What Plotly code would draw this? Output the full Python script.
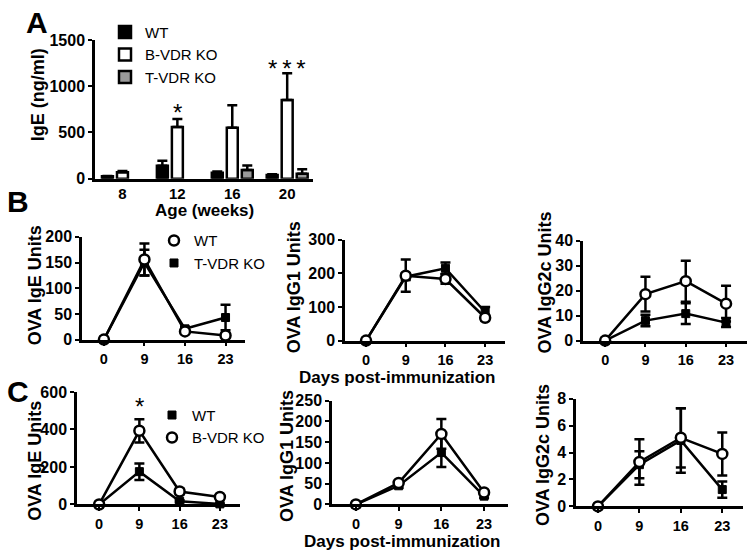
import plotly.graph_objects as go

W, H = 754, 560
FONT = "Arial, 'Liberation Sans', sans-serif"

# ---------------- data ----------------
# Panel A: serum IgE by age
ages = ["8", "12", "16", "20"]
ige_wt = [25, 140, 65, 40]
ige_wt_err = [5, 55, 12, 8]
ige_bko = [68, 560, 550, 850]
ige_bko_err = [14, 85, 245, 290]
ige_tko = [None, None, 95, 53]
ige_tko_err = [0, 0, 48, 48]

days = ["0", "9", "16", "23"]

# Panel B: WT vs T-VDR KO
b_ige_wt = [0, 156, 16, 8]
b_ige_wt_err = [0, 31, 3, 4]
b_ige_tko = [0, 150, 21, 43]
b_ige_tko_err = [0, 25, 4, 25]

b_igg1_wt = [0, 193, 183, 68]
b_igg1_wt_err = [0, 48, 14, 8]
b_igg1_tko = [0, 190, 215, 85]
b_igg1_tko_err = [0, 10, 17, 15]

b_igg2c_wt = [0, 18.6, 23.8, 14.8]
b_igg2c_wt_err = [0, 7.0, 8.2, 7.2]
b_igg2c_tko = [0, 8.0, 10.8, 7.2]
b_igg2c_tko_err = [0, 2.3, 4.2, 1.8]

# Panel C: WT vs B-VDR KO
c_ige_wt = [0, 175, 17, 3]
c_ige_wt_err = [0, 44, 5, 2]
c_ige_bko = [0, 393, 69, 40]
c_ige_bko_err = [0, 62, 15, 8]

c_igg1_wt = [0, 45, 125, 20]
c_igg1_wt_err = [0, 5, 35, 4]
c_igg1_bko = [0, 52, 170, 29]
c_igg1_bko_err = [0, 5, 36, 4]

c_igg2c_wt = [0, 3.1, 4.9, 1.25]
c_igg2c_wt_err = [0, 1.0, 2.4, 0.6]
c_igg2c_bko = [0, 3.3, 5.1, 3.9]
c_igg2c_bko_err = [0, 1.7, 2.2, 1.6]

# significance marks: (axis suffix, category index, y value, text)
stars = [("", 1, 715, "*"), ("", 3, 1195, "*\u2009*\u2009*"), ("5", 1, 522, "*")]


def xd(a, b):
    return [a / W, b / W]


def yd(top, bottom):
    return [1 - bottom / H, 1 - top / H]


fig = go.Figure()

LW = 2.5
circle = dict(symbol="circle", color="white", size=10, line=dict(color="black", width=LW))
square = dict(symbol="square", color="black", size=8, line=dict(color="black", width=1))


def err(arr, sym=True):
    d = dict(type="data", array=arr, color="black", thickness=LW, width=5)
    if not sym:
        d.update(symmetric=False, arrayminus=[0] * len(arr))
    return d


# ---- Panel A bars ----
for name, vals, e, col in [("WT", ige_wt, ige_wt_err, "black"),
                           ("B-VDR KO", ige_bko, ige_bko_err, "white"),
                           ("T-VDR KO", ige_tko, ige_tko_err, "#9a9a9a")]:
    fig.add_trace(go.Bar(x=ages, y=vals, name=name, xaxis="x", yaxis="y",
                         marker=dict(color=col, line=dict(color="black", width=LW)),
                         error_y=err(e, sym=False), legend="legend"))


def add_lines(xa, ya, first, first_err, first_mk, second, second_err, second_mk):
    for vals, e, mk in [(first, first_err, first_mk), (second, second_err, second_mk)]:
        fig.add_trace(go.Scatter(x=days, y=vals, xaxis=xa, yaxis=ya, mode="lines+markers",
                                 line=dict(color="black", width=LW), marker=mk,
                                 error_y=err(e), cliponaxis=False, showlegend=False))


# Panel B (squares = T-VDR KO drawn first, circles = WT on top)
add_lines("x2", "y2", b_ige_tko, b_ige_tko_err, square, b_ige_wt, b_ige_wt_err, circle)
add_lines("x3", "y3", b_igg1_tko, b_igg1_tko_err, square, b_igg1_wt, b_igg1_wt_err, circle)
add_lines("x4", "y4", b_igg2c_tko, b_igg2c_tko_err, square, b_igg2c_wt, b_igg2c_wt_err, circle)
# Panel C (squares = WT, circles = B-VDR KO)
add_lines("x5", "y5", c_ige_wt, c_ige_wt_err, square, c_ige_bko, c_ige_bko_err, circle)
add_lines("x6", "y6", c_igg1_wt, c_igg1_wt_err, square, c_igg1_bko, c_igg1_bko_err, circle)
add_lines("x7", "y7", c_igg2c_wt, c_igg2c_wt_err, square, c_igg2c_bko, c_igg2c_bko_err, circle)

# legend entries (marker only)
for name, mk, lg, xa, ya in [("WT", circle, "legend2", "x2", "y2"),
                             ("T-VDR KO", square, "legend2", "x2", "y2"),
                             ("WT", square, "legend3", "x5", "y5"),
                             ("B-VDR KO", circle, "legend3", "x5", "y5")]:
    fig.add_trace(go.Scatter(x=[None], y=[None], mode="markers", marker=mk, name=name,
                             legend=lg, xaxis=xa, yaxis=ya, showlegend=True))

axis_common = dict(showline=True, linewidth=LW, linecolor="black", showgrid=False,
                   zeroline=False, ticks="outside", ticklen=4, tickwidth=2, tickcolor="black",
                   tickfont=dict(family=FONT, size=16, color="black", weight="bold"))

specs = [
    # name, xdomain px, ydomain px (top,bottom), yrange, dtick, xrange
    ("", (95, 313), (33, 176), [0, 1500], 500, [-0.5, 3.47]),
    ("2", (82, 245), (236, 342), [0, 200], 50, [-0.54, 3.48]),
    ("3", (345, 505), (239, 343), [0, 300], 100, [-0.53, 3.5]),
    ("4", (583, 747), (240, 343), [0, 40], 10, [-0.55, 3.52]),
    ("5", (77, 240), (396, 512), [0, 600], 200, [-0.55, 3.5]),
    ("6", (332, 508), (405, 512), [0, 250], 50, [-0.56, 3.56]),
    ("7", (576, 743), (403, 514), [0, 8], 2, [-0.53, 3.5]),
]
layout_axes = {}
for n, xdom, ydom, yr, dt, xr in specs:
    xa = dict(axis_common, domain=xd(*xdom), range=xr, type="category",
              anchor="y" + n, fixedrange=True)
    xa["tickfont"] = dict(axis_common["tickfont"], size=15 if n == "" else 14.5)
    if n == "":
        xa["ticks"] = ""
    ya = dict(axis_common, domain=yd(*ydom), range=yr, dtick=dt, tick0=0,
              anchor="x" + n, fixedrange=True)
    layout_axes["xaxis" + n] = xa
    layout_axes["yaxis" + n] = ya

leg_common = dict(font=dict(family=FONT, size=15, color="black"), bgcolor="rgba(0,0,0,0)",
                  itemwidth=30, xanchor="left", yanchor="top", tracegroupgap=0,
                  itemclick=False, itemdoubleclick=False)

annotations = []


def ann(text, x, y, size, bold=True, angle=0, xref="paper", yref="paper", **kw):
    t = f"<b>{text}</b>" if bold else text
    d = dict(text=t, x=x, y=y, xref=xref, yref=yref, showarrow=False, textangle=angle,
             font=dict(family=FONT, size=size, color="black"), xanchor="center",
             yanchor="middle", borderpad=0)
    d.update(kw)
    annotations.append(d)


def px(xp, yp):
    return xp / W, 1 - yp / H


# panel letters
for letter, (lx, ly) in [("A", (37, 15)), ("B", (18, 200)), ("C", (18, 396))]:
    x, y = px(lx, ly)
    ann(letter, x, y, 30)

# y titles
for text, (tx, ty) in [("IgE (ng/ml)", (38, 90)),
                       ("OVA IgE Units", (35, 286)),
                       ("OVA IgG1 Units", (294, 288)),
                       ("OVA IgG2c Units", (545, 283)),
                       ("OVA IgE Units", (35, 467)),
                       ("OVA IgG1 Units", (287, 462)),
                       ("OVA IgG2c Units", (543, 461))]:
    x, y = px(tx, ty)
    ann(text, x, y, 18, angle=-90)

# x titles
for text, (tx, ty) in [("Age (weeks)", (205, 209)),
                       ("Days post-immunization", (397, 381)),
                       ("Days post-immunization", (402, 550))]:
    x, y = px(tx, ty)
    ann(text, x, y, 17)

# significance stars
for ax, idx, yv, txt in stars:
    ann(txt, idx, yv, 24, bold=False, xref="x" + ax, yref="y" + ax)

fig.update_layout(
    width=W, height=H, autosize=False,
    margin=dict(l=0, r=0, t=0, b=0),
    paper_bgcolor="white", plot_bgcolor="white",
    barmode="group", bargap=0.18, bargroupgap=0.27,
    showlegend=True,
    legend=dict(leg_common, x=105 / W, y=1 - 8 / H),
    legend2=dict(leg_common, x=154 / W, y=1 - 223 / H),
    legend3=dict(leg_common, x=152 / W, y=1 - 403 / H),
    annotations=annotations,
    **layout_axes,
)

fig.write_html("out.html", config={"displayModeBar": False},
               post_script="document.body.style.margin='0';")
